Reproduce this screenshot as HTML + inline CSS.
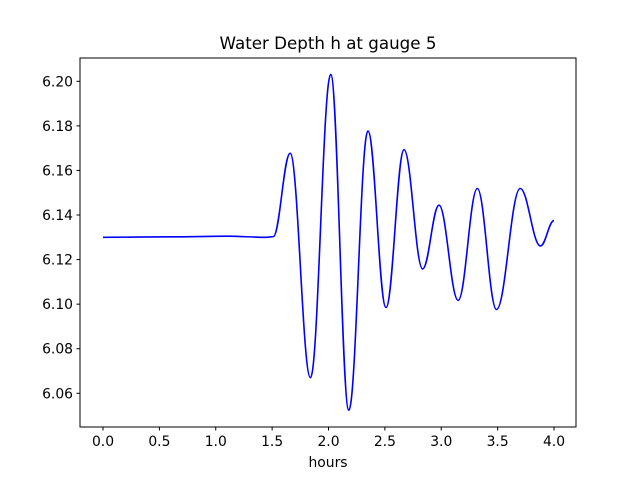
<!DOCTYPE html>
<html><head><meta charset="utf-8"><style>
body{margin:0;background:#fff}
svg{display:block;font-family:"DejaVu Sans","Liberation Sans",sans-serif}
</style></head><body>
<svg id="chart" width="640" height="480">
<rect width="640" height="480" fill="#fff"/>
<text x="328" y="49" text-anchor="middle" font-size="16.7">Water Depth h at gauge 5</text>
<g id="plot"></g>
<rect x="80" y="58" width="496" height="369" fill="none" stroke="#000" stroke-width="1"/>
<g id="xt"></g><g id="yt"></g>
<text x="328" y="467" text-anchor="middle" font-size="13.9">hours</text>
</svg>
<script>
const times=[0,0.6,1.1,1.45,1.51,1.66,1.84,2.02,2.18,2.35,2.51,2.67,2.835,2.98,3.15,3.32,3.49,3.70,3.88,4.0];
const depths=[6.13,6.1302,6.1305,6.1300,6.1303,6.1677,6.067,6.2031,6.0524,6.1777,6.0985,6.1693,6.1158,6.1444,6.1017,6.1519,6.0976,6.1519,6.1261,6.1375];
const xTicks=[0,0.5,1.0,1.5,2.0,2.5,3.0,3.5,4.0];
const yTicks=[6.06,6.08,6.10,6.12,6.14,6.16,6.18,6.20];
const NS="http://www.w3.org/2000/svg";
const X=t=>103+t*112.75;
const Y=h=>237.3-(h-6.13)*2228.5;
function mk(tag,attrs,parent){const e=document.createElementNS(NS,tag);for(const k in attrs)e.setAttribute(k,attrs[k]);parent.appendChild(e);return e;}
const xt=document.getElementById('xt'),yt=document.getElementById('yt'),plot=document.getElementById('plot');
xTicks.forEach(v=>{
 const l=mk('line',{x1:X(v),x2:X(v),y1:427,y2:430.5,stroke:'#000'},xt);
 
 
 const t=mk('text',{x:X(v),y:446,'text-anchor':'middle','font-size':'13.9'},xt);
 t.textContent=v.toFixed(1);
 
 
});
yTicks.forEach(v=>{
 const l=mk('line',{x1:76.5,x2:80,y1:Y(v),y2:Y(v),stroke:'#000'},yt);
 
 
 const t=mk('text',{x:73,y:Y(v)+5,'text-anchor':'end','font-size':'13.9'},yt);
 t.textContent=v.toFixed(2);
 
 
});
let d='M'+X(times[0])+','+Y(depths[0]);
for(let i=1;i<times.length;i++){
 const x0=X(times[i-1]),x1=X(times[i]),y0=Y(depths[i-1]),y1=Y(depths[i]);
 const dx=(x1-x0)/2.6;
 d+=` C${x0+dx},${y0} ${x1-dx},${y1} ${x1},${y1}`;
}
const p=mk('path',{d:d,fill:'none',stroke:'#0000ff','stroke-width':'1.6'},plot);


</script>
</body></html>
